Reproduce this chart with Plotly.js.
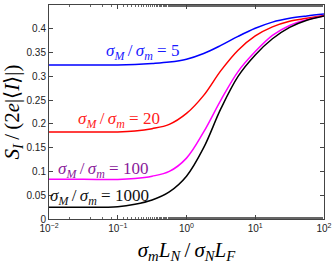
<!DOCTYPE html>
<html>
<head>
<meta charset="utf-8">
<script src="https://cdn.plot.ly/plotly-3.0.1.min.js"></script>
<style>html,body{margin:0;padding:0;background:#fff;}#chart{width:332px;height:264px;}</style>
</head>
<body>
<div id="chart"></div>
<script>
// x values (sigma_m L_N / sigma_N L_F), log-spaced
const xVals = [0.01, 0.0316, 0.1, 0.178, 0.316, 0.562, 1, 1.778, 3.162, 5.623, 10, 17.78, 31.62, 56.23, 100];
// S_I/(2e|<I>|) for each sigma_M/sigma_m
const ratio5    = [0.324, 0.324, 0.324, 0.325, 0.327, 0.330, 0.336, 0.348, 0.365, 0.384, 0.401, 0.414, 0.422, 0.427, 0.431];
const ratio20   = [0.183, 0.183, 0.183, 0.185, 0.190, 0.199, 0.222, 0.260, 0.312, 0.355, 0.385, 0.404, 0.416, 0.422, 0.428];
const ratio100  = [0.0835, 0.0835, 0.083, 0.085, 0.090, 0.100, 0.128, 0.183, 0.250, 0.310, 0.352, 0.386, 0.407, 0.419, 0.427];
const ratio1000 = [0.0246, 0.0248, 0.026, 0.031, 0.040, 0.057, 0.090, 0.150, 0.232, 0.300, 0.345, 0.379, 0.403, 0.418, 0.427];
const seriesNames = ["σM/σm = 5", "σM/σm = 20", "σM/σm = 100", "σM/σm = 1000"];
const xTickVals = [0.01, 0.1, 1, 10, 100];
const xTickText = ["10<sup>−2</sup>", "10<sup>−1</sup>", "10<sup>0</sup>", "10<sup>1</sup>", "10<sup>2</sup>"];
const labelText = [
  "<i>σ</i><sub><i>M</i></sub>\u2009/\u2009<i>σ</i><sub><i>m</i></sub> = 5",
  "<i>σ</i><sub><i>M</i></sub>\u2009/\u2009<i>σ</i><sub><i>m</i></sub> = 20",
  "<i>σ</i><sub><i>M</i></sub>\u2009/\u2009<i>σ</i><sub><i>m</i></sub> = 100",
  "<i>σ</i><sub><i>M</i></sub>\u2009/\u2009<i>σ</i><sub><i>m</i></sub> = 1000"
];
const labelX = [0.23, 0.103, 0.061, 0.055];
const labelY = [0.352, 0.208, 0.103, 0.046];

const lineColors = ["#0000ff", "#ff0000", "#ff00ff", "#000000"];
const labelColors = ["#1a1aff", "#ff2020", "#8a1a9a", "#111111"];
const allY = [ratio5, ratio20, ratio100, ratio1000];

const traces = allY.map((ys, i) => ({
  x: xVals, y: ys, type: "scatter", mode: "lines", name: seriesNames[i],
  line: {color: lineColors[i], width: 1.5, shape: "spline", smoothing: 1},
  showlegend: false, hoverinfo: "skip"
}));

const annotations = labelText.map((t, i) => ({
  x: Math.log10(labelX[i]), y: labelY[i], xref: "x", yref: "y", text: t, showarrow: false,
  font: {family: "Liberation Serif, Times New Roman, serif", size: 17, color: labelColors[i]},
  xanchor: "center", yanchor: "middle"
}));

const layout = {
  width: 332, height: 264,
  margin: {l: 49, r: 8, t: 5, b: 45},
  paper_bgcolor: "#fff", plot_bgcolor: "#fff",
  font: {family: "Liberation Sans, Arial, sans-serif", size: 10, color: "#222"},
  xaxis: {
    type: "log", range: [-2, 2], tickvals: xTickVals, ticktext: xTickText,
    ticks: "inside", ticklen: 4, tickcolor: "#444", showline: true, linecolor: "#444", linewidth: 1,
    mirror: "ticks", showgrid: false, zeroline: false,
    minor: {ticks: "inside", ticklen: 2, tickcolor: "#666", showgrid: false},
    tickfont: {size: 10, color: "#222"},
    title: {text: "<i>σ</i><sub><i>m</i></sub><i>L</i><sub><i>N</i></sub>\u2009/\u2009<i>σ</i><sub><i>N</i></sub><i>L</i><sub><i>F</i></sub>",
            font: {family: "Liberation Serif, Times New Roman, serif", size: 21, color: "#000"}, standoff: 17}
  },
  yaxis: {
    range: [0, 0.45], dtick: 0.05, tick0: 0,
    ticks: "inside", ticklen: 4, tickcolor: "#444", showline: true, linecolor: "#444", linewidth: 1,
    mirror: "ticks", showgrid: false, zeroline: false,
    tickfont: {size: 10, color: "#222"},
    title: {text: "<i>S</i><sub><i>I</i></sub>\u2009/\u2009(2<i>e</i>|⟨<i>I</i>⟩|)",
            font: {family: "Liberation Serif, Times New Roman, serif", size: 21, color: "#000"}, standoff: 22}
  },
  annotations: annotations
};

Plotly.newPlot("chart", traces, layout, {staticPlot: true, displayModeBar: false});
</script>
</body>
</html>
